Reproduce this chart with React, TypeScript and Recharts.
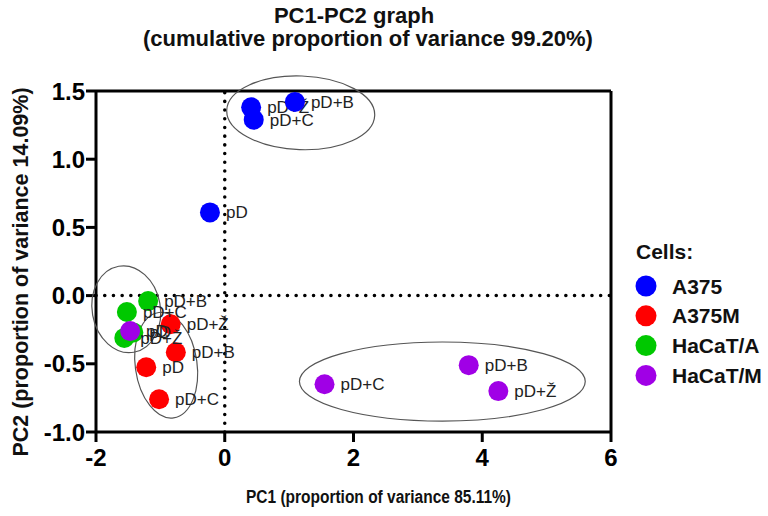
import React from 'react';
import { ScatterChart, Scatter, XAxis, YAxis, ReferenceLine, ReferenceDot } from 'recharts';

const W = 768;
const H = 516;
const PLOT_LEFT = 96;
const PLOT_RIGHT = 611;
const PLOT_TOP = 91;
const PLOT_BOTTOM = 432;
const FONT = '"Liberation Sans", Arial, Helvetica, sans-serif';

const xDomain = [-2, 6];
const yDomain = [-1, 1.5];
const xTicks = [-2, 0, 2, 4, 6];
const yTicks = [-1, -0.5, 0, 0.5, 1, 1.5];

const titleLines = ['PC1-PC2 graph', '(cumulative proportion of variance 99.20%)'];
const xTitle = 'PC1 (proportion of variance 85.11%)';
const yTitle = 'PC2 (proportion of variance 14.09%)';
const legendTitle = 'Cells:';

const cellNames = ['A375', 'A375M', 'HaCaT/A', 'HaCaT/M'];
const cellColors = ['#0000ff', '#ff0000', '#00c800', '#a000e6'];

const a375 = [
  { label: 'pD', pc1: -0.23, pc2: 0.61 },
  { label: 'pD+Ž', pc1: 0.41, pc2: 1.38 },
  { label: 'pD+C', pc1: 0.45, pc2: 1.29 },
  { label: 'pD+B', pc1: 1.09, pc2: 1.42 },
];
const a375m = [
  { label: 'pD+Ž', pc1: -0.84, pc2: -0.21 },
  { label: 'pD+B', pc1: -0.76, pc2: -0.415 },
  { label: 'pD', pc1: -1.22, pc2: -0.525 },
  { label: 'pD+C', pc1: -1.02, pc2: -0.76 },
];
const hacatA = [
  { label: 'pD', pc1: -1.42, pc2: -0.27 },
  { label: 'pD+B', pc1: -1.19, pc2: -0.04 },
  { label: 'pD+C', pc1: -1.52, pc2: -0.12 },
  { label: 'pD+Ž', pc1: -1.56, pc2: -0.31 },
];
const hacatM = [
  { label: 'pD', pc1: -1.47, pc2: -0.26 },
  { label: 'pD+C', pc1: 1.55, pc2: -0.65 },
  { label: 'pD+B', pc1: 3.79, pc2: -0.51 },
  { label: 'pD+Ž', pc1: 4.25, pc2: -0.7 },
];
const groups = [a375, a375m, hacatA, hacatM];

// cluster ellipses: centre and radii in data units, tilt in degrees
const ellipseCx = [1.18, 3.38, -1.53, -0.91];
const ellipseCy = [1.34, -0.63, -0.1, -0.51];
const ellipseRx = [1.15, 2.22, 0.53, 0.48];
const ellipseRy = [0.27, 0.29, 0.32, 0.39];
const ellipseTilt = [2, 0, -10, -8];

const pxPerX = (PLOT_RIGHT - PLOT_LEFT) / (xDomain[1] - xDomain[0]);
const pxPerY = (PLOT_BOTTOM - PLOT_TOP) / (yDomain[1] - yDomain[0]);

const makeShape = (color: string) => (props: any) => {
  const { cx, cy, payload } = props;
  return (
    <g>
      <circle cx={cx} cy={cy} r={10} fill={color} />
      <text x={cx + 16} y={cy + 6} fontSize={17} fill="#222" fontFamily={FONT}>
        {payload.label}
      </text>
    </g>
  );
};

const makeEllipse = (i: number) => (props: any) => {
  const { cx, cy } = props;
  return (
    <ellipse
      cx={cx}
      cy={cy}
      rx={ellipseRx[i] * pxPerX}
      ry={ellipseRy[i] * pxPerY}
      transform={`rotate(${ellipseTilt[i]} ${cx} ${cy})`}
      fill="none"
      stroke="#555"
      strokeWidth={1.2}
    />
  );
};

const tickStyle = { fontSize: 24, fontWeight: 'bold', fill: '#000', fontFamily: FONT };

export default function App() {
  const drawOrder = [0, 1, 2, 3];
  return (
    <div style={{ position: 'absolute', left: 0, top: 0, width: W, height: H, background: '#fff' }}>
      <ScatterChart
        width={W}
        height={H}
        margin={{ top: PLOT_TOP, right: W - PLOT_RIGHT, bottom: 0, left: 0 }}
      >
        <XAxis
          type="number"
          dataKey="pc1"
          domain={xDomain}
          ticks={xTicks}
          interval={0}
          allowDataOverflow
          height={H - PLOT_BOTTOM}
          axisLine={{ stroke: '#000', strokeWidth: 3 }}
          tickLine={{ stroke: '#000', strokeWidth: 3 }}
          tickSize={10}
          tickMargin={7}
          tick={tickStyle}
        />
        <YAxis
          type="number"
          dataKey="pc2"
          domain={yDomain}
          ticks={yTicks}
          interval={0}
          allowDataOverflow
          width={PLOT_LEFT}
          axisLine={{ stroke: '#000', strokeWidth: 3 }}
          tickLine={{ stroke: '#000', strokeWidth: 3 }}
          tickSize={10}
          tickMargin={1}
          tick={tickStyle}
          tickFormatter={(v: number) => v.toFixed(1)}
        />
        <ReferenceLine y={1.5} stroke="#000" strokeWidth={3} ifOverflow="visible" />
        <ReferenceLine x={6} stroke="#000" strokeWidth={3} ifOverflow="visible" />
        <ReferenceLine x={0} stroke="#000" strokeWidth={3.5} strokeDasharray="0.1 8.6" strokeLinecap="round" />
        <ReferenceLine y={0} stroke="#000" strokeWidth={3.5} strokeDasharray="0.1 8.6" strokeLinecap="round" />
        {ellipseCx.map((cx, i) => (
          <ReferenceDot key={'e' + i} x={cx} y={ellipseCy[i]} r={1} ifOverflow="visible" shape={makeEllipse(i)} />
        ))}
        {drawOrder.map((g) => (
          <Scatter
            key={cellNames[g]}
            name={cellNames[g]}
            data={groups[g]}
            fill={cellColors[g]}
            shape={makeShape(cellColors[g])}
            isAnimationActive={false}
          />
        ))}
      </ScatterChart>
      <svg
        width={W}
        height={H}
        style={{ position: 'absolute', left: 0, top: 0, pointerEvents: 'none' }}
        fontFamily={FONT}
        fontWeight="bold"
      >
        <text x={354} y={23} fontSize={22} textAnchor="middle" fill="#111">{titleLines[0]}</text>
        <text x={368} y={46} fontSize={22} textAnchor="middle" fill="#111">{titleLines[1]}</text>
        <text x={246} y={503} fontSize={18} textLength={265} lengthAdjust="spacingAndGlyphs" fill="#111">{xTitle}</text>
        <text transform="translate(28 272) rotate(-90)" x={0} y={0} fontSize={21.5} textAnchor="middle" fill="#111">{yTitle}</text>
        <text x={636} y={259} fontSize={21} fill="#111">{legendTitle}</text>
        {cellNames.map((n, i) => (
          <g key={n}>
            <circle cx={646} cy={286 + i * 29.8} r={10.5} fill={cellColors[i]} />
            <text x={672} y={286 + i * 29.8 + 7.5} fontSize={21} fill="#111">{n}</text>
          </g>
        ))}
      </svg>
    </div>
  );
}
